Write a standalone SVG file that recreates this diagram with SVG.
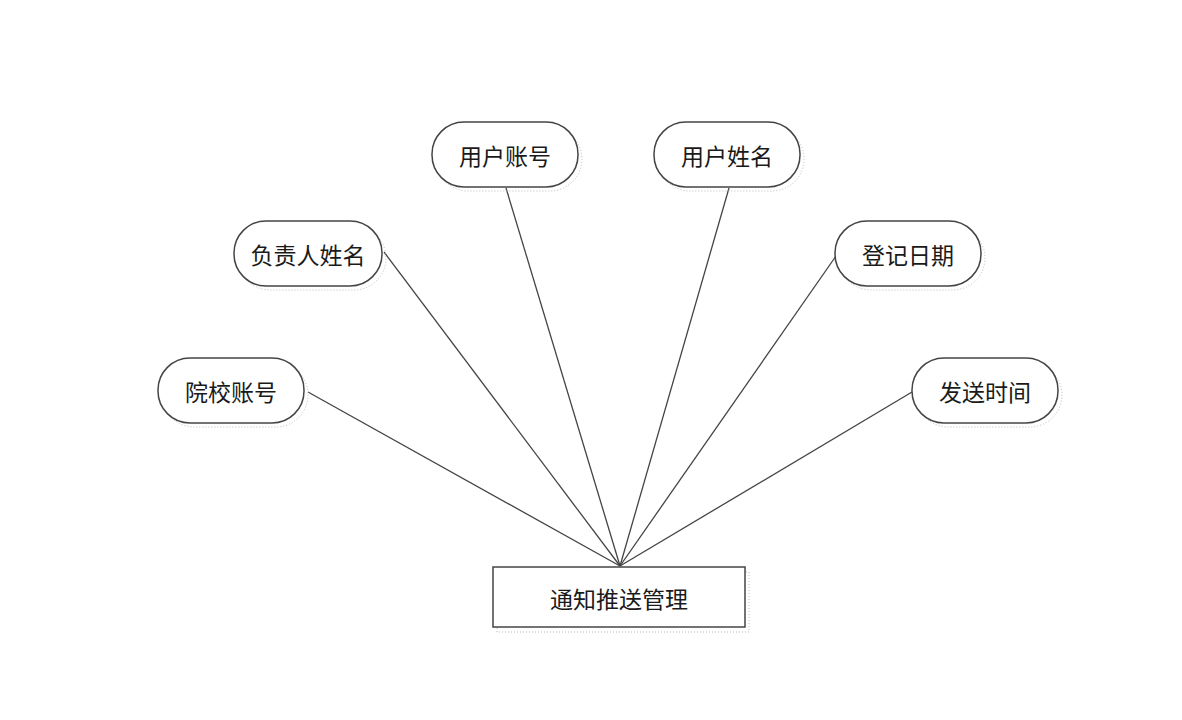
<svg xmlns="http://www.w3.org/2000/svg" width="1182" height="720" viewBox="0 0 1182 720">
<style>
.n{fill:#fff;stroke:#444;stroke-width:1.5}
.sh{fill:none;stroke:#bbb;stroke-width:1;stroke-dasharray:1 2}
.t{font-family:"Noto Sans CJK SC","Liberation Serif",serif;font-size:23px;fill:#1a1a1a;text-anchor:middle;dominant-baseline:central}
.c line{stroke:#444;stroke-width:1.3}
</style>
<rect width="1182" height="720" fill="#fff"/>
<g class="c" id="connectors">
<line x1="308" y1="392" x2="620" y2="566"/>
<line x1="384" y1="252" x2="620" y2="566"/>
<line x1="506" y1="188" x2="620" y2="566"/>
<line x1="729" y1="188" x2="620" y2="566"/>
<line x1="836" y1="256" x2="620" y2="566"/>
<line x1="912" y1="392" x2="620" y2="566"/>
</g>
<g id="n1"><rect class="sh" x="436" y="127" width="146" height="64" rx="32"/><rect class="n" x="432" y="122" width="146" height="65" rx="32"/><text class="t" x="505" y="155">用户账号</text></g>
<g id="n2"><rect class="sh" x="658" y="127" width="146" height="64" rx="32"/><rect class="n" x="654" y="122" width="146" height="65" rx="32"/><text class="t" x="727" y="155">用户姓名</text></g>
<g id="n3"><rect class="sh" x="238" y="226" width="148" height="64" rx="32"/><rect class="n" x="234" y="221" width="148" height="65" rx="32"/><text class="t" x="308" y="254">负责人姓名</text></g>
<g id="n4"><rect class="sh" x="839" y="226" width="146" height="64" rx="32"/><rect class="n" x="835" y="221" width="146" height="65" rx="32"/><text class="t" x="908" y="254">登记日期</text></g>
<g id="n5"><rect class="sh" x="162" y="363" width="146" height="64" rx="32"/><rect class="n" x="158" y="358" width="146" height="65" rx="32"/><text class="t" x="231" y="391">院校账号</text></g>
<g id="n6"><rect class="sh" x="916" y="363" width="146" height="64" rx="32"/><rect class="n" x="912" y="358" width="146" height="65" rx="32"/><text class="t" x="985" y="391">发送时间</text></g>
<g id="n7"><rect class="sh" x="497" y="572" width="252" height="60"/><rect class="n" x="493" y="567" width="252" height="60"/><text class="t" x="619" y="598">通知推送管理</text></g>
</svg>
